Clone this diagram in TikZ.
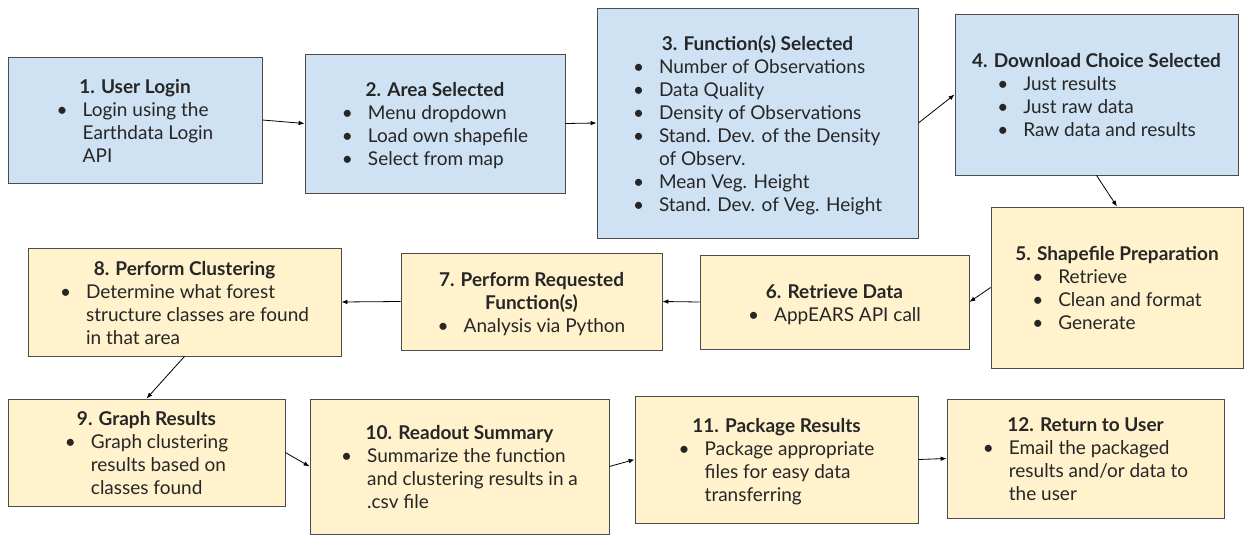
\documentclass[tikz,border=0pt]{standalone}
\usepackage{fontspec}
\setmainfont{Lato}
\usepackage{tikz}
\usetikzlibrary{arrows.meta}

\definecolor{stepblue}{HTML}{CFE2F3}
\definecolor{stepyellow}{HTML}{FFF2CC}

% title line (strut pushes the text a little down) and bullet rows
\newcommand{\steptitle}[1]{\rule{0pt}{22pt}\textbf{#1}}
\newcommand{\items}[1]{\begin{tabular}[t]{@{}c@{\hspace{15pt}}l@{}}#1\end{tabular}}

\begin{document}
\begin{tikzpicture}[
        x=1pt, y=-1pt,
        every node/.style = {
            font=\fontsize{19}{23}\selectfont,
            text=black!85,
            align=center,
            inner sep=0pt,
            draw=black!70,
            line width=0.8pt
        },
        bluebox/.style = {fill=stepblue},
        yellowbox/.style = {fill=stepyellow},
        link/.style = {draw=black, line width=0.8pt, -{Latex[length=6pt,width=4.5pt]}}]
    \useasboundingbox (0,0) rectangle (1244,535);
    % top row
    \node[bluebox, minimum width=254pt, minimum height=126pt] (1) at (135,120)
        {\steptitle{1. User Login}\\\items{\textbullet & Login using the\\ & Earthdata Login\\ & API}};
    \node[bluebox, minimum width=260pt, minimum height=139pt] (2) at (435,123.5)
        {\steptitle{2. Area Selected}\\\items{\textbullet & Menu dropdown\\ \textbullet & Load own shapefile\\ \textbullet & Select from map}};
    \node[bluebox, minimum width=321pt, minimum height=230pt] (3) at (757.5,123)
        {\steptitle{3. Function(s) Selected}\\\items{\textbullet & Number of Observations\\ \textbullet & Data Quality\\ \textbullet & Density of Observations\\ \textbullet & Stand. Dev. of the Density\\ & of Observ.\\ \textbullet & Mean Veg. Height\\ \textbullet & Stand. Dev. of Veg. Height}};
    \node[bluebox, minimum width=283pt, minimum height=161pt] (4) at (1096.5,94.5)
        {\steptitle{4. Download Choice Selected}\\\items{\textbullet & Just results\\ \textbullet & Just raw data\\ \textbullet & Raw data and results}};
    % middle row
    \node[yellowbox, minimum width=252pt, minimum height=161pt] (5) at (1117,287.5)
        {\steptitle{5. Shapefile Preparation}\\\items{\textbullet & Retrieve\\ \textbullet & Clean and format\\ \textbullet & Generate}};
    \node[yellowbox, minimum width=269pt, minimum height=94pt] (6) at (834.5,302)
        {\steptitle{6. Retrieve Data}\\\items{\textbullet & AppEARS API call}};
    \node[yellowbox, minimum width=261pt, minimum height=97pt] (7) at (531.5,301.5)
        {\steptitle{7. Perform Requested}\\\textbf{Function(s)}\\\items{\textbullet & Analysis via Python}};
    \node[yellowbox, minimum width=313pt, minimum height=108pt] (8) at (184.5,302)
        {\steptitle{8. Perform Clustering}\\\items{\textbullet & Determine what forest\\ & structure classes are found\\ & in that area}};
    % bottom row
    \node[yellowbox, minimum width=277pt, minimum height=107pt] (9) at (146.5,452.5)
        {\steptitle{9. Graph Results}\\\items{\textbullet & Graph clustering\\ & results based on\\ & classes found}};
    \node[yellowbox, minimum width=299pt, minimum height=135pt] (10) at (459.5,466.5)
        {\steptitle{10. Readout Summary}\\\items{\textbullet & Summarize the function\\ & and clustering results in a\\ & .csv file}};
    \node[yellowbox, minimum width=283pt, minimum height=127pt] (11) at (776.5,459.5)
        {\steptitle{11. Package Results}\\\items{\textbullet & Package appropriate\\ & files for easy data\\ & transferring}};
    \node[yellowbox, minimum width=277pt, minimum height=119pt] (12) at (1085.5,458.5)
        {\steptitle{12. Return to User}\\\items{\textbullet & Email the packaged\\ & results and/or data to\\ & the user}};
    % flow
    \draw[link] (1.east) -- (2.west);
    \draw[link] (2.east) -- (3.west);
    \draw[link] (3.east) -- (4.west);
    \draw[link] (4.south) -- (5.north);
    \draw[link] (5.west) -- (6.east);
    \draw[link] (6.west) -- (7.east);
    \draw[link] (7.west) -- (8.east);
    \draw[link] (8.south) -- (9.north);
    \draw[link] (9.east) -- (10.west);
    \draw[link] (10.east) -- (11.west);
    \draw[link] (11.east) -- (12.west);
\end{tikzpicture}
\end{document}
